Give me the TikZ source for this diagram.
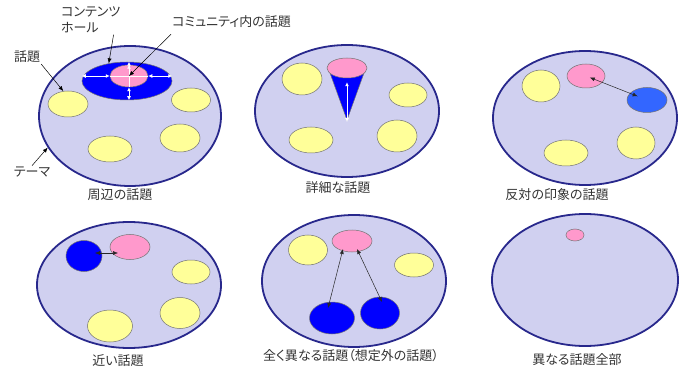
\documentclass[tikz,border=0pt]{standalone}
\usepackage{fontspec}
\newfontfamily\jp{Noto Sans CJK JP}[RawFeature=+palt]
\usetikzlibrary{arrows.meta, shapes.geometric}

\definecolor{themefill}{RGB}{208,208,240}
\definecolor{themeline}{RGB}{40,40,140}
\definecolor{topicfill}{RGB}{255,255,153}
\definecolor{commfill}{RGB}{255,153,204}
\definecolor{holefill}{RGB}{0,0,255}
\definecolor{farfill}{RGB}{51,102,255}

\tikzset{
  dims/.style 2 args={minimum width=#1pt, minimum height=#2pt},
  theme/.style={ellipse, inner sep=0pt, draw=themeline, line width=1.8pt, fill=themefill},
  topic/.style={ellipse, inner sep=0pt, draw=black!55, line width=0.5pt, fill=topicfill},
  comm/.style={ellipse, inner sep=0pt, draw=black!55, line width=0.5pt, fill=commfill},
  hole/.style={ellipse, inner sep=0pt, draw=black!55, line width=0.5pt, fill=holefill},
  far/.style={ellipse, inner sep=0pt, draw=black!55, line width=0.5pt, fill=farfill},
  panelname/.style={font=\jp\fontsize{13}{16}\selectfont, text=black!80, inner sep=1pt},
  note/.style={panelname, align=left},
  pointer/.style={black, line width=0.5pt, -{Latex[length=5pt,width=4pt]}},
  link/.style={black!85, line width=0.5pt, {Latex[length=5pt,width=4pt]}-{Latex[length=5pt,width=4pt]}},
  spread/.style={white, line width=0.8pt, {Latex[length=4pt,width=4pt]}-{Latex[length=4pt,width=4pt]}}
}

\begin{document}
\begin{tikzpicture}[x=1pt, y=-1pt]
\useasboundingbox (0,0) rectangle (685,374);

% 周辺の話題
\begin{scope}[shift={(130,116)}]
\node[theme, dims={182}{140}] (p1) at (0,0) {};
\node[hole, dims={90}{38}] (p1hole) at (-3,-35) {};
\node[comm, dims={38}{22}] (p1comm) at (-1,-40) {};
\node[topic, dims={40}{26}] (p1t1) at (-62,-12) {};
\node[topic, dims={39}{24}] (p1t2) at (61,-16) {};
\node[topic, dims={40}{28}] (p1t3) at (50,22) {};
\node[topic, dims={44}{26}] (p1t4) at (-20,33) {};
\draw[white, line width=0.8pt] (p1comm.west) -- (p1comm.east);
\draw[white, line width=0.8pt] (p1comm.north) -- (p1comm.south);
\draw[spread] (p1comm.west) -- (p1comm.west -| p1hole.west);
\draw[spread] (p1comm.east) -- (p1comm.east -| p1hole.east);
\draw[spread] (p1comm.north) -- (p1comm.north |- p1hole.north);
\draw[spread] (p1comm.south) -- (p1comm.south |- p1hole.south);
\node[panelname] (p1name) at (-10,79) {周辺の話題};
\end{scope}
\node[note, anchor=north west] (holenote) at (60,6) {コンテンツ\\ホール};
\node[note, anchor=west] (commnote) at (171,22) {コミュニティ内の話題};
\node[note] (topicnote) at (27,57) {話題};
\node[note] (themenote) at (32,172) {テーマ};
\draw[pointer] ([xshift=-8pt]holenote.south east) -- (p1hole.136);
\draw[pointer] ([yshift=-5pt]commnote.south west) -- (p1comm.center);
\draw[pointer] (topicnote.south east) -- (p1t1.110);
\draw[pointer] (themenote.north) -- (p1.201);

% 詳細な話題
\begin{scope}[shift={(347,111)}]
\node[theme, dims={184}{132}] (p2) at (0,0) {};
\node[topic, dims={40}{32}] (p2t1) at (-45,-32) {};
\node[topic, dims={38}{24}] (p2t2) at (61,-16) {};
\node[topic, dims={44}{26}] (p2t3) at (-36,29) {};
\node[topic, dims={40}{32}] (p2t4) at (50,25) {};
\coordinate (p2tip) at (0,9);
\filldraw[fill=holefill, draw=black!55, line width=0.5pt] (-17,-38) -- (17,-38) -- (p2tip) -- cycle;
\node[comm, dims={40}{20}] (p2comm) at (0,-43) {};
\draw[spread] ([yshift=-2pt]p2tip) -- ([yshift=-4pt]p2comm.south);
\node[panelname] (p2name) at (-9,77) {詳細な話題};
\end{scope}

% 反対の印象の話題
\begin{scope}[shift={(585,118)}]
\node[theme, dims={184}{134}] (p3) at (0,0) {};
\node[topic, dims={38}{32}] (p3t1) at (-44,-32) {};
\node[comm, dims={38}{24}] (p3comm) at (1,-42) {};
\node[far, dims={40}{25}] (p3far) at (62,-18) {};
\node[topic, dims={38}{32}] (p3t2) at (51,25) {};
\node[topic, dims={44}{26}] (p3t3) at (-19,35) {};
\draw[link, shorten <=4pt, shorten >=10pt] (p3comm.center) -- (p3far.center);
\node[panelname] (p3name) at (-28,77) {反対の印象の話題};
\end{scope}

% 近い話題
\begin{scope}[shift={(129,285)}]
\node[theme, dims={184}{126}] (p4) at (0,0) {};
\node[hole, dims={36}{31}] (p4hole) at (-45,-29) {};
\node[comm, dims={40}{25}] (p4comm) at (1,-38) {};
\node[topic, dims={38}{24}] (p4t1) at (62,-13) {};
\node[topic, dims={40}{31}] (p4t2) at (51,28) {};
\node[topic, dims={45}{32}] (p4t3) at (-19,41) {};
\draw[link] ([shift={(-12,6)}]p4comm.center) -- ([shift={(11,-3)}]p4hole.center);
\node[panelname] (p4name) at (-11,76) {近い話題};
\end{scope}

% 全く異なる話題
\begin{scope}[shift={(354,281)}]
\node[theme, dims={184}{132}] (p5) at (0,0) {};
\node[topic, dims={39}{30}] (p5t1) at (-46,-31) {};
\node[comm, dims={40}{22}] (p5comm) at (-2,-40) {};
\node[topic, dims={39}{24}] (p5t2) at (60,-16) {};
\node[hole, dims={45}{32}] (p5hole1) at (-22,37) {};
\node[hole, dims={39}{32}] (p5hole2) at (26,32) {};
\draw[link] ([shift={(-9,8)}]p5comm.center) -- ([shift={(-4,-10)}]p5hole1.center);
\draw[link] ([shift={(5,8)}]p5comm.center) -- ([shift={(2,-11)}]p5hole2.center);
\node[panelname] (p5name) at (-3,75) {全く異なる話題（想定外の話題）};
\end{scope}

% 異なる話題全部
\begin{scope}[shift={(585,280)}]
\node[theme, dims={186}{132}] (p6) at (0,0) {};
\node[comm, dims={18}{12}] (p6comm) at (-10,-45) {};
\node[panelname] (p6name) at (-8,80) {異なる話題全部};
\end{scope}
\end{tikzpicture}
\end{document}
